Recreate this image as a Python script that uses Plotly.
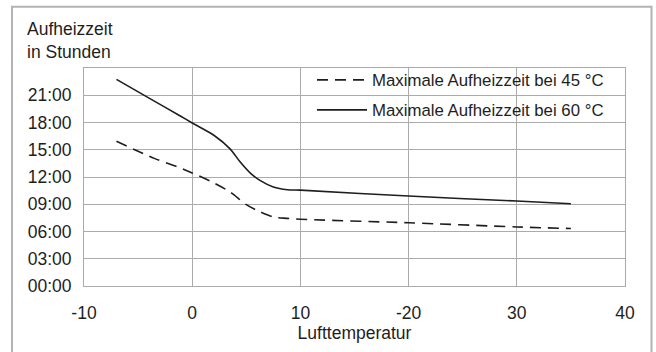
import plotly.graph_objects as go

# Lufttemperatur (°C) and Aufheizzeit (hours)
temp_45 = [-7, -3.5, -1.1, 0, 2.0, 3.5, 5.0, 6.3, 7.5, 8.8, 10, 20, 30, 35]
hours_45 = [15.93, 14.05, 13.0, 12.45, 11.35, 10.35, 8.95, 8.15, 7.6, 7.45, 7.35, 6.96, 6.5, 6.33]

temp_60 = [-7, -3.5, -1.1, 0, 2.0, 3.5, 4.4, 5.4, 6.3, 7.5, 8.8, 10, 20, 30, 35]
hours_60 = [22.75, 20.35, 18.72, 17.95, 16.6, 15.1, 13.7, 12.4, 11.6, 10.9, 10.6, 10.55, 9.9, 9.35, 9.05]

x_tickvals = [-10, 0, 10, 20, 30, 40]
x_ticktext = ['-10', '0', '10', '-20', '30', '40']   # as printed in the original
y_tickvals = [0, 3, 6, 9, 12, 15, 18, 21]
y_ticktext = ['00:00', '03:00', '06:00', '09:00', '12:00', '15:00', '18:00', '21:00']

FONT = 'Liberation Sans, Arial, sans-serif'
TEXT = '#1e1e1e'
GRID = '#ababab'
LINE = '#1e1e1e'
SIZE = 17.5
LEG_SIZE = 16.8

W, H = 656, 352
M_L, M_R, M_T, M_B = 84, 31, 68, 66
PW = W - M_L - M_R
PH = H - M_T - M_B


def px_x(px):
    return (px - M_L) / PW


def px_y(py):
    return (H - M_B - py) / PH


fig = go.Figure()

fig.add_trace(go.Scatter(
    x=temp_45, y=hours_45, mode='lines',
    name='Maximale Aufheizzeit bei 45 °C',
    line=dict(color=LINE, width=1.6, dash='11px,7px', shape='spline', smoothing=0.8),
    legend='legend',
))
fig.add_trace(go.Scatter(
    x=temp_60, y=hours_60, mode='lines',
    name='Maximale Aufheizzeit bei 60 °C',
    line=dict(color=LINE, width=1.6, shape='spline', smoothing=0.8),
    legend='legend2',
))

legend_common = dict(
    xanchor='left', yanchor='middle', bgcolor='rgba(0,0,0,0)', visible=True,
    borderwidth=0, itemwidth=50, font=dict(family=FONT, size=LEG_SIZE, color=TEXT),
)

fig.update_layout(
    width=W, height=H,
    margin=dict(l=M_L, r=M_R, t=M_T, b=M_B),
    paper_bgcolor='white', plot_bgcolor='white',
    font=dict(family=FONT, size=SIZE, color=TEXT),
    showlegend=True,
    legend=dict(x=px_x(312), y=px_y(80), **legend_common),
    legend2=dict(x=px_x(312), y=px_y(110), **legend_common),
    annotations=[dict(
        text='Aufheizzeit<br>in Stunden', xref='paper', yref='paper',
        x=px_x(25), y=px_y(17), xanchor='left', yanchor='top', align='left',
        showarrow=False, font=dict(family=FONT, size=SIZE, color=TEXT),
    )],
    shapes=[dict(
        type='rect', xref='paper', yref='paper',
        x0=px_x(12), x1=px_x(651.5), y0=px_y(6.7), y1=px_y(400),
        line=dict(color='#b3b3b3', width=2), layer='below',
    )],
)

fig.update_xaxes(
    range=[-10, 40], tickvals=x_tickvals, ticktext=x_ticktext,
    showgrid=True, gridcolor=GRID, gridwidth=1,
    showline=True, linecolor=GRID, linewidth=1, mirror=True,
    zeroline=False, ticks='', ticklabelstandoff=11, automargin=False,
    title=dict(text='Lufttemperatur', standoff=4, font=dict(family=FONT, size=SIZE, color=TEXT)),
)
fig.update_yaxes(
    range=[0, 24], tickvals=y_tickvals, ticktext=y_ticktext,
    showgrid=True, gridcolor=GRID, gridwidth=1,
    showline=True, linecolor=GRID, linewidth=1, mirror=True,
    zeroline=False, ticks='', ticklabelstandoff=8, automargin=False,
)

# the page body has an 8px default margin; drop it so the figure sits at the window origin
fig.write_html('out.html', config={'displayModeBar': False},
               post_script="document.body.style.margin='0';")
